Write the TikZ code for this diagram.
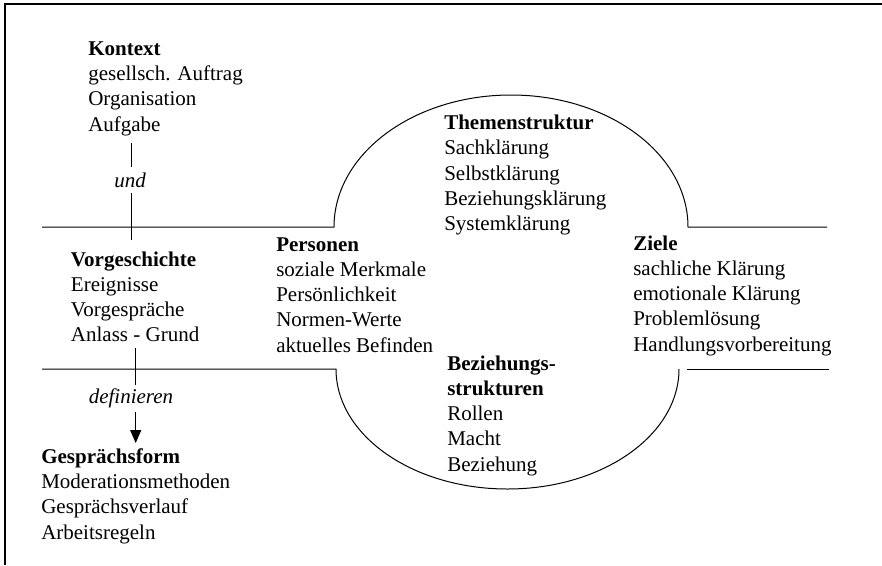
\documentclass[tikz,border=0pt]{standalone}
\usepackage{fontspec}
\setmainfont{Liberation Serif}
\usetikzlibrary{arrows.meta}
\begin{document}
\begin{tikzpicture}[x=0.75pt,y=-0.75pt,
  % multi-line blocks: the base anchor sits on the baseline of the last line
  txt/.style={align=left, anchor=base west, inner sep=0pt,
    font=\fontsize{15.75pt}{18.9pt}\selectfont},
  lbl/.style={inner sep=0pt, font=\fontsize{15.75pt}{18.9pt}\selectfont\itshape},
  rule/.style={line width=0.75pt},
  frame/.style={line width=1.6pt, line join=miter},
  ]
\useasboundingbox (0,0) rectangle (882,565);
% outer frame (top and left edges)
\draw[frame] (5,565) -- (5,4.3) -- (882,4.3);

% upper band with the arch
\draw[rule] (42,227) -- (334,227)
  arc[start angle=180, end angle=360, x radius=177, y radius=132] -- (827,227);
% lower band with the bowl
\draw[rule] (42,369) -- (336,369)
  arc[start angle=180, end angle=0, x radius=171.5, y radius=120];
\draw[rule] (687,369) -- (829,369);

% text blocks
\node[txt] (kontext) at (88,131) {\textbf{Kontext}\\gesellsch. Auftrag\\Organisation\\Aufgabe};
\node[txt] (vorg) at (70.7,341.7) {\textbf{Vorgeschichte}\\Ereignisse\\Vorgespräche\\Anlass - Grund};
\node[txt] (gform) at (41,539) {\textbf{Gesprächsform}\\Moderationsmethoden\\Gesprächsverlauf\\Arbeitsregeln};
\node[txt] (thema) at (444,230.5) {\textbf{Themenstruktur}\\Sachklärung\\Selbstklärung\\Beziehungsklärung\\Systemklärung};
\node[txt] (pers) at (276,352) {\textbf{Personen}\\soziale Merkmale\\Persönlichkeit\\Normen-Werte\\aktuelles Befinden};
\node[txt] (bez) at (447,471) {\textbf{Beziehungs-}\\\textbf{strukturen}\\Rollen\\Macht\\Beziehung};
\node[txt] (ziele) at (633,351) {\textbf{Ziele}\\sachliche Klärung\\emotionale Klärung\\Problemlösung\\Handlungsvorbereitung};

% connector Kontext -- Vorgeschichte
\coordinate (kfoot) at (131,143);
\coordinate (vhead) at (131,240);
\node[lbl, minimum height=19.5pt] (und) at (130,180) {und};
\draw[rule] (kfoot) -- (kfoot |- und.north);
\draw[rule] (kfoot |- und.south) -- (vhead);

% connector Vorgeschichte -> Gesprächsform
\coordinate (vfoot) at (135.7,348);
\coordinate (ghead) at (135.7,443);
\node[lbl, minimum height=20.25pt] (def) at (131,398.5) {definieren};
\draw[rule] (vfoot) -- (vfoot |- def.north);
\draw[rule, -{Triangle[length=9.75pt, width=8.25pt]}] (vfoot |- def.south) -- (ghead);
\end{tikzpicture}
\end{document}
